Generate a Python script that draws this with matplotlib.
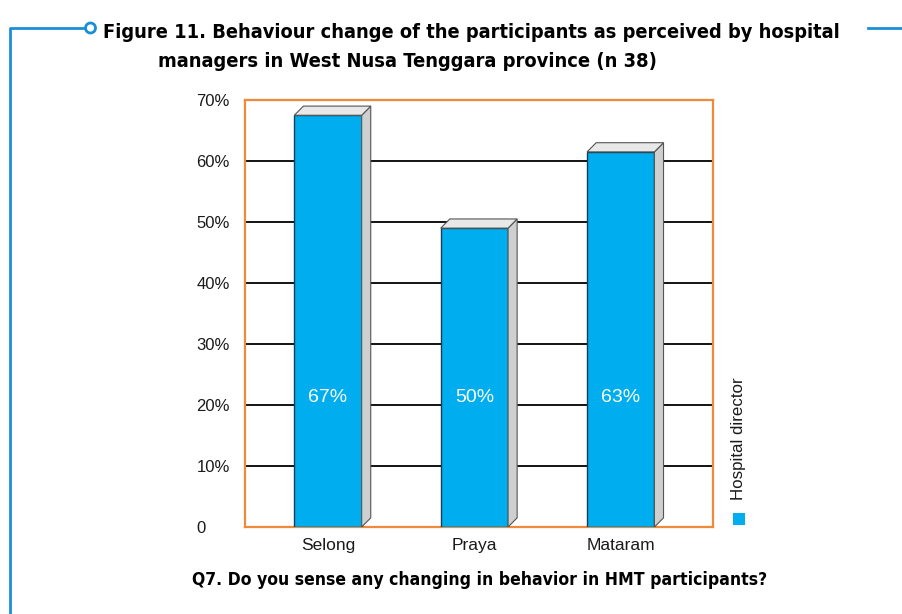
import matplotlib.pyplot as plt
from matplotlib import font_manager
from matplotlib.patches import Polygon, Ellipse
from matplotlib.lines import Line2D

# ===== DATA =====
districts = ["Selong", "Praya", "Mataram"]
bar_heights = [67.5, 49, 61.5]          # bar tops as drawn
bar_labels = ["67%", "50%", "63%"]      # printed values
y_ticks = [0, 10, 20, 30, 40, 50, 60, 70]
y_ticklabels = ["0", "10%", "20%", "30%", "40%", "50%", "60%", "70%"]
series_name = "Hospital director"
title_1 = "Figure 11. Behaviour change of the participants as perceived by hospital"
title_2 = "managers in West Nusa Tenggara province (n 38)"
question = "Q7. Do you sense any changing in behavior in HMT participants?"

BLUE = "#00aeef"
ORANGE = "#ee8a3a"
FRAME = "#1a8fd6"

# look for a narrow bold face for the headings (narrowest first)
cond = None
for stretch, tag in [("extra-condensed", "xtraCondensed"), ("condensed", "ondensed")]:
    for fam in ["Noto Sans", "DejaVu Sans", "Open Sans", "Roboto"]:
        fp = font_manager.FontProperties(family=fam, stretch=stretch, weight="bold")
        try:
            path = font_manager.findfont(fp, fallback_to_default=False)
        except Exception:
            continue
        if tag in path.replace("-", "").replace("_", ""):
            cond = path
            break
    if cond:
        break

def heading_props():
    if cond:
        return font_manager.FontProperties(fname=cond)
    return font_manager.FontProperties(family=["Liberation Sans", "DejaVu Sans"], weight="bold")

W, H = 903, 614
fig = plt.figure(figsize=(W / 100, H / 100), dpi=100)
plt.rcParams["font.family"] = ["Liberation Sans", "DejaVu Sans"]

# ===== AXES =====
ax = fig.add_axes([245 / W, 1 - 527 / H, 468 / W, 427 / H])
ax.set_ylim(0, 70)
ax.set_xlim(-0.567, 2.63)

x = range(len(districts))
width = 0.46
dx, dy = 0.062, 1.5

ax.set_yticks(y_ticks)
ax.set_yticklabels(y_ticklabels, fontsize=12, color="#1a1a1a", ha="left")
ax.set_xticks(list(x))
ax.set_xticklabels(districts, fontsize=12.5, color="#1a1a1a")
ax.tick_params(axis="y", length=0, pad=35)
ax.tick_params(axis="x", length=0, pad=8)
ax.yaxis.grid(True, color="black", lw=1.3)
ax.set_axisbelow(True)
for s in ax.spines.values():
    s.set_color(ORANGE)
    s.set_linewidth(1.6)

ax.bar(x, bar_heights, width=width, color=BLUE, edgecolor="#1d3c4f", lw=1.0, zorder=3)
for i, h in zip(x, bar_heights):
    l, r = i - width / 2, i + width / 2
    side = Polygon([(r, 0), (r + dx, dy), (r + dx, h + dy), (r, h)],
                   closed=True, fc="#cfcfcf", ec="#555555", lw=0.8, zorder=3)
    top = Polygon([(l, h), (l + dx, h + dy), (r + dx, h + dy), (r, h)],
                  closed=True, fc="#e8e8e8", ec="#555555", lw=0.8, zorder=3)
    ax.add_patch(side)
    ax.add_patch(top)

for i, lab in zip(x, bar_labels):
    ax.text(i, 21.3, lab, color="white", fontsize=14, ha="center", va="center", zorder=4)

# ===== LEGEND (vertical) =====
fig.patches.append(plt.Rectangle((733 / W, 1 - 525 / H), 12 / W, 12 / H,
                                 transform=fig.transFigure, fc=BLUE, ec="none"))
fig.text(739 / W, 1 - 500 / H, series_name, rotation=90, fontsize=12.2,
         ha="center", va="bottom", color="#1a1a1a")

# ===== TITLE + QUESTION =====
t1 = fig.text(103 / W, 1 - 38 / H, title_1, fontproperties=heading_props(),
              ha="left", va="baseline")
t2 = fig.text(158 / W, 1 - 67 / H, title_2, fontproperties=heading_props(),
              ha="left", va="baseline")
t3 = fig.text(480 / W, 1 - 585 / H, question, fontproperties=heading_props(),
              ha="center", va="baseline")

# size the headings to the widths they take in the figure
targets = [(t1, 735, 17), (t2, 499, 17), (t3, 575, 12.5)]
for t, _, size in targets:
    t.set_fontsize(size)
fig.canvas.draw()
r = fig.canvas.get_renderer()
for t, px, size in targets:
    w = t.get_window_extent(r).width
    t.set_fontsize(min(size * px / w, 21 if t is not t3 else 15))

# ===== FRAME =====
fig.lines.append(Line2D([10 / W, 10 / W, 85 / W], [0, 1 - 28 / H, 1 - 28 / H],
                        transform=fig.transFigure, color=FRAME, lw=2))
fig.lines.append(Line2D([868 / W, 1.0], [1 - 28 / H, 1 - 28 / H],
                        transform=fig.transFigure, color=FRAME, lw=2))
fig.patches.append(Ellipse((90.5 / W, 1 - 28 / H), 10 / W, 10 / H,
                           transform=fig.transFigure, fc="white", ec=FRAME, lw=2))

fig.savefig("out.png", dpi=100)
